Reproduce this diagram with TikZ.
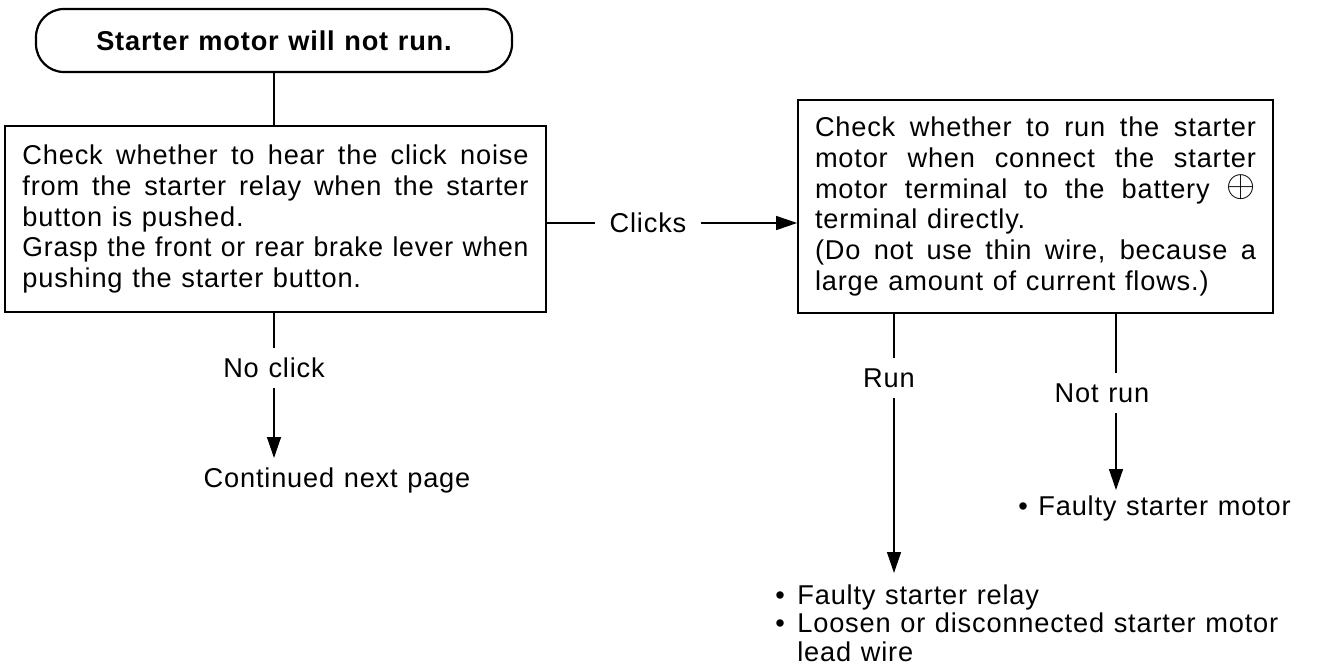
\documentclass[tikz,border=0pt]{standalone}
\usepackage{fontspec}
\usepackage{graphicx}
\setmainfont{Liberation Sans}[LetterSpace=3.0, WordSpace=1.15]
\usetikzlibrary{arrows.meta}
\newcommand\jline[2]{\sbox0{#2}\ifdim\wd0>#1\relax\resizebox{#1}{\height}{\usebox0}\else\makebox[#1][s]{#2}\fi}
\newcommand\plusterm{\raisebox{0.1ex}{\scalebox{1.3}{$\oplus$}}}
\begin{document}
\begin{tikzpicture}[x=0.5pt,y=-0.5pt,
  every node/.style={font=\fontsize{13.6}{15.4}\selectfont, inner sep=0pt},
  box/.style={draw, line width=0.9pt, align=left},
  lbl/.style={inner xsep=4pt, inner ysep=5pt},
  conn/.style={line width=0.7pt},
  arr/.style={conn, -{Triangle[length=10.5pt,width=7pt]}}]
\useasboundingbox (0,0) rectangle (1339,665);

% boxes
\node[box, rounded corners=14pt, line width=1.1pt, minimum width=238pt, minimum height=31.5pt,
      font=\fontsize{13.6}{15.4}\selectfont\bfseries] (start) at (274,40.5) {Starter motor will not run.};

\node[box, minimum width=270.5pt, minimum height=93pt] (chk) at (275.5,219)
{\jline{253pt}{Check whether to hear the click noise}\\
 \jline{253pt}{from the starter relay when the starter}\\
 button is pushed.\\
 \jline{253pt}{Grasp the front or rear brake lever when}\\
 pushing the starter button.};

\node[box, minimum width=237.5pt, minimum height=106.5pt] (mot) at (1035.5,206.5)
{\jline{220.5pt}{Check whether to run the starter}\\
 \jline{220.5pt}{motor when connect the starter}\\
 \jline{220.5pt}{motor terminal to the battery \plusterm}\\
 terminal directly.\\
 \jline{220.5pt}{(Do not use thin wire, because a}\\
 large amount of current flows.)};

% labels
\node[lbl] (noclick) at (274,368) {No click};
\node[anchor=north, inner ysep=4.5pt] (cont) at (337,458) {Continued next page};
\node[lbl, inner xsep=7pt] (clicks) at (648,223) {Clicks};
\node[lbl] (runl) at (889,378) {Run};
\node[lbl] (notrun) at (1102,393) {Not run};
\coordinate (runx) at (894,0);
\coordinate (nrx) at (1116,0);

% results
\node[anchor=north west, align=left, inner ysep=0.5pt,
      font=\fontsize{13.6}{14.4}\selectfont] (relay) at (775,583)
{\makebox[11pt][l]{\textbullet}Faulty starter relay\\
 \makebox[11pt][l]{\textbullet}Loosen or disconnected starter motor\\
 \hspace*{11pt}lead wire};
\node[anchor=north west, inner ysep=2.5pt] (fmotor) at (1018,490)
{\makebox[10pt][l]{\textbullet}Faulty starter motor};

% connectors
\draw[conn] (start.south) -- (start.south |- chk.north);
\draw[conn] (chk.south -| noclick) -- (noclick.north);
\draw[arr] (noclick.south) -- (noclick.south |- cont.north);
\draw[conn] (chk.east |- clicks) -- (clicks.west);
\draw[arr] (clicks.east) -- (clicks.east -| mot.west);
\draw[conn] (mot.south -| runx) -- (runx |- runl.north);
\draw[arr, shorten >=5pt] (runx |- runl.south) -- (runx |- relay.north);
\draw[conn] (mot.south -| nrx) -- (nrx |- notrun.north);
\draw[arr] (nrx |- notrun.south) -- (nrx |- fmotor.north);
\end{tikzpicture}
\end{document}
